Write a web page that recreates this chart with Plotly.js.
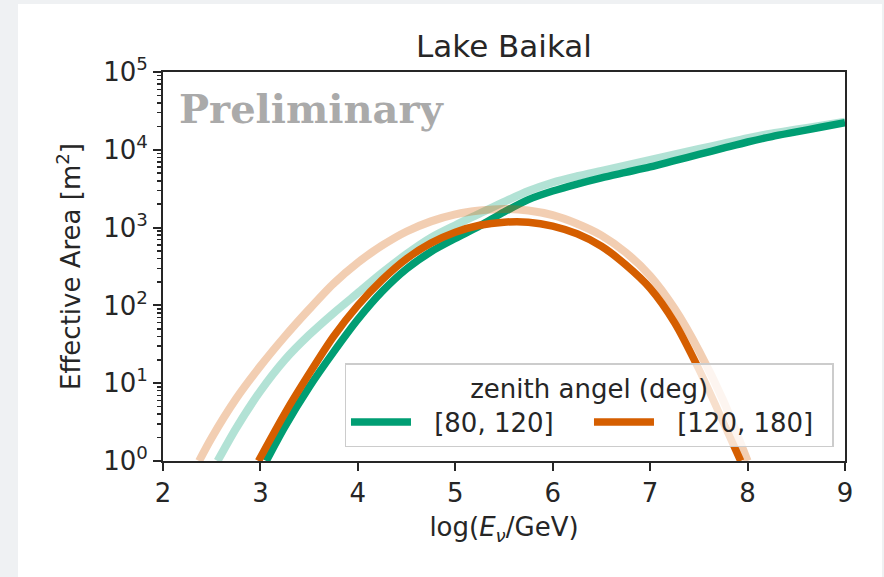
<!DOCTYPE html>
<html>
<head>
<meta charset="utf-8">
<script src="https://cdn.plot.ly/plotly-3.0.1.min.js"></script>
<style>
  html, body { margin: 0; padding: 0; width: 884px; height: 577px; overflow: hidden; background: #eff1f3; }
  #chart { position: absolute; left: 18px; top: 4px; width: 864px; height: 573px; background: #ffffff; }
</style>
</head>
<body>
<div id="chart"></div>
<script>
// Energy grid, log10(E_nu / GeV), and log10 of the effective area in m^2.

// zenith 80-120 deg, main curve
const xZen80 = [3.06, 3.25, 3.5, 3.75, 4.0, 4.25, 4.5, 4.75, 5.0, 5.25, 5.5, 5.75, 6.0, 6.25, 6.5, 6.75, 7.0, 7.25, 7.5, 7.75, 8.0, 8.25, 8.5, 8.75, 9.0];
const logA80 = [0, 0.44, 0.95, 1.40, 1.82, 2.18, 2.47, 2.69, 2.86, 3.02, 3.20, 3.36, 3.47, 3.56, 3.64, 3.71, 3.78, 3.86, 3.94, 4.02, 4.10, 4.17, 4.23, 4.29, 4.35];

// zenith 80-120 deg, light reference curve
const xZen80Ref = [2.56, 2.75, 3.0, 3.25, 3.5, 3.75, 4.0, 4.25, 4.5, 4.75, 5.0, 5.25, 5.5, 5.75, 6.0, 6.25, 6.5, 6.75, 7.0, 7.25, 7.5, 7.75, 8.0, 8.25, 8.5, 8.75, 9.0];
const logA80Ref = [0, 0.42, 0.9, 1.3, 1.62, 1.9, 2.16, 2.42, 2.66, 2.87, 3.03, 3.18, 3.33, 3.47, 3.58, 3.66, 3.73, 3.80, 3.87, 3.94, 4.01, 4.08, 4.15, 4.21, 4.26, 4.31, 4.36];

// zenith 120-180 deg, main curve
const xZen120 = [2.98, 3.25, 3.5, 3.75, 4.0, 4.25, 4.5, 4.75, 5.0, 5.25, 5.5, 5.75, 6.0, 6.25, 6.5, 6.75, 7.0, 7.25, 7.5, 7.75, 7.93];
const logA120 = [0, 0.61, 1.12, 1.6, 2.0, 2.33, 2.6, 2.8, 2.94, 3.03, 3.07, 3.07, 3.02, 2.92, 2.76, 2.52, 2.22, 1.78, 1.18, 0.5, 0];

// zenith 120-180 deg, light reference curve
const xZen120Ref = [2.37, 2.5, 2.75, 3.0, 3.25, 3.5, 3.75, 4.0, 4.25, 4.5, 4.75, 5.0, 5.25, 5.5, 5.75, 6.0, 6.25, 6.5, 6.75, 7.0, 7.25, 7.5, 7.75, 8.0];
const logA120Ref = [0, 0.3, 0.8, 1.22, 1.6, 1.95, 2.28, 2.55, 2.77, 2.95, 3.08, 3.17, 3.22, 3.24, 3.22, 3.16, 3.05, 2.9, 2.68, 2.38, 1.96, 1.42, 0.78, 0];

const legendNames = ['[80, 120]', '[120, 180]'];
const legendTitle = 'zenith angel (deg)';
const xTickVals = [2, 3, 4, 5, 6, 7, 8, 9];
const decades = [0, 1, 2, 3, 4, 5];

const GREEN = '#009e73';
const ORANGE = '#d55e00';
const INK = '#262626';
const FONT = 'DejaVu Sans, Verdana, sans-serif';
const BASE = 26;

const toArea = arr => arr.map(v => Math.pow(10, v));

function curve(x, logA, color, width, opts) {
  return Object.assign({
    type: 'scatter', mode: 'lines',
    x: x, y: toArea(logA),
    line: { color: color, width: width, shape: 'spline', smoothing: 0.8 },
    hoverinfo: 'skip'
  }, opts);
}

// light curves first, main curves on top; the orange pair is drawn above the green pair
const traces = [
  curve(xZen80Ref, logA80Ref, GREEN, 8, { opacity: 0.3, showlegend: false }),
  curve(xZen80, logA80, GREEN, 7.5, { name: '\u2002\u2009' + legendNames[0] }),
  curve(xZen120Ref, logA120Ref, ORANGE, 8, { opacity: 0.3, showlegend: false }),
  curve(xZen120, logA120, ORANGE, 7.5, { name: '\u2002\u2009' + legendNames[1] })
];

// minor ticks at 2..9 x 10^n on the log axis
const minorVals = [];
decades.slice(0, -1).forEach(d => { for (let m = 2; m <= 9; m++) minorVals.push(m * Math.pow(10, d)); });

const layout = {
  width: 864, height: 573,
  paper_bgcolor: '#ffffff', plot_bgcolor: '#ffffff',
  margin: { l: 145, r: 37, t: 68, b: 116, pad: 0 },
  font: { family: FONT, size: BASE, color: INK },
  title: { text: 'Lake Baikal', x: 0.5, xref: 'paper', xanchor: 'center', y: 0.926, yref: 'container', yanchor: 'middle', font: { size: 31, color: INK } },
  xaxis: {
    range: [2, 9], tickvals: xTickVals, ticks: 'outside', ticklen: 8, tickwidth: 2, tickcolor: INK,
    showline: true, linecolor: INK, linewidth: 2, mirror: true, showgrid: false, zeroline: false,
    tickfont: { size: BASE, color: INK },
    title: { text: 'log(<i>E</i><sub><i>ν</i></sub>/GeV)', font: { size: BASE, color: INK }, standoff: 11 }
  },
  yaxis: {
    type: 'log', range: [0, 5],
    tickvals: decades.map(d => Math.pow(10, d)),
    ticktext: decades.map(d => '10<sup>' + d + '</sup>'),
    ticks: 'outside', ticklen: 8, tickwidth: 2, tickcolor: INK,
    minor: { tickmode: 'array', tickvals: minorVals, ticks: 'outside', ticklen: 4, tickwidth: 1.5, tickcolor: INK, showgrid: false },
    showline: true, linecolor: INK, linewidth: 2, mirror: true, showgrid: false, zeroline: false,
    tickfont: { size: BASE, color: INK },
    title: { text: 'Effective Area [m<sup>2</sup>]', font: { size: BASE, color: INK }, standoff: 15 }
  },
  legend: {
    orientation: 'h', x: 0.2664, xanchor: 'left', y: 0.035, yanchor: 'bottom',
    bgcolor: 'rgba(255,255,255,0.8)', bordercolor: '#cccccc', borderwidth: 1.3,
    font: { family: FONT, size: BASE, color: INK },
    title: { text: legendTitle, side: 'top center', font: { size: BASE, color: INK } },
    itemwidth: 60, entrywidth: 168, entrywidthmode: 'pixels'
  },
  annotations: [{
    text: '<b>Preliminary</b>', xref: 'paper', yref: 'paper', x: 0.02, y: 0.905, xanchor: 'left', yanchor: 'middle',
    showarrow: false, font: { family: 'DejaVu Serif, serif', size: 40, color: '#aaaaaa' }
  }]
};

Plotly.newPlot('chart', traces, layout, { staticPlot: true, displayModeBar: false });
</script>
</body>
</html>
